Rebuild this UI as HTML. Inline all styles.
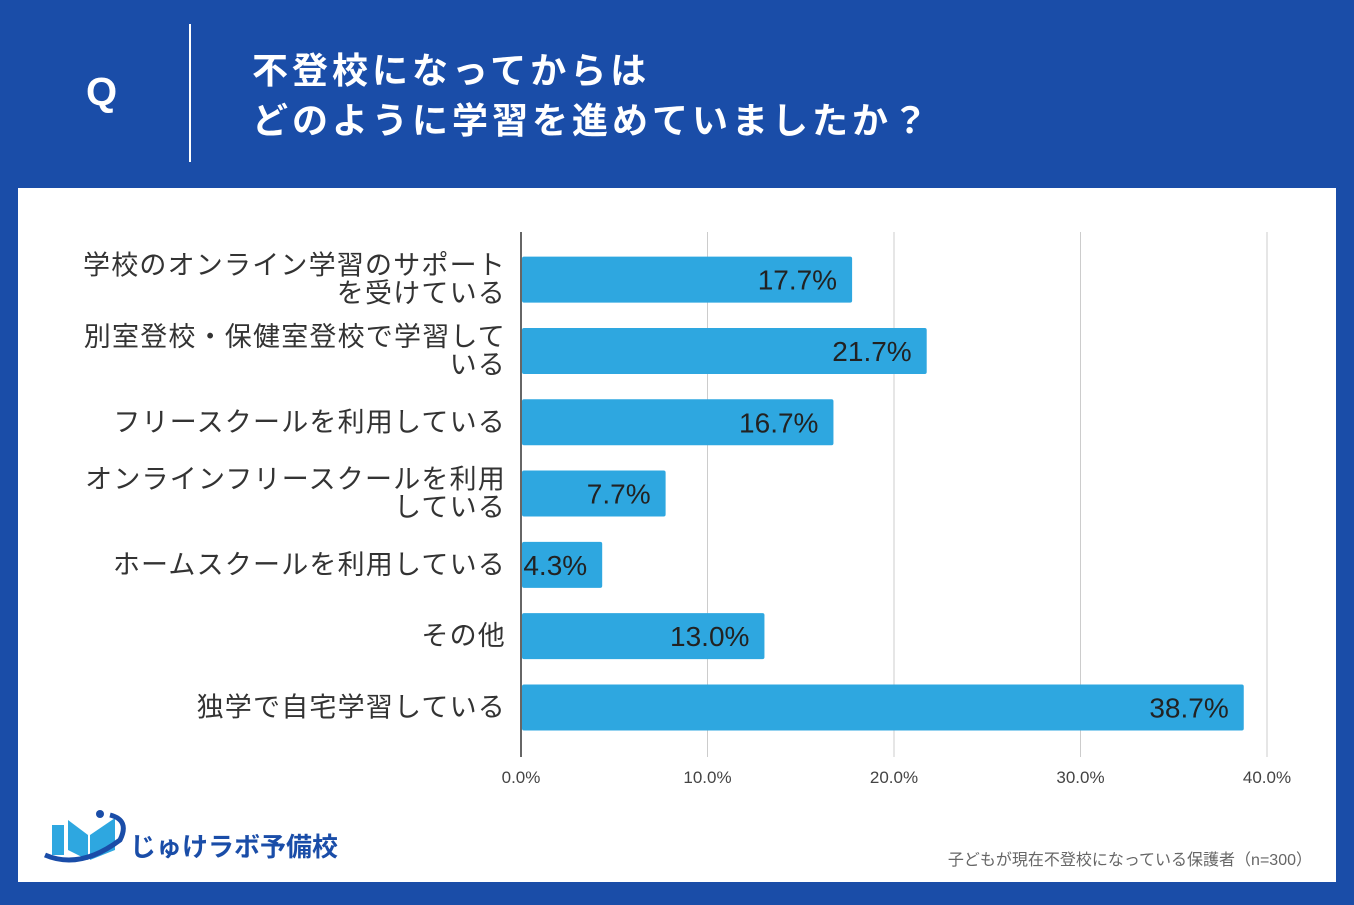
<!DOCTYPE html>
<html><head><meta charset="utf-8"><style>
body{margin:0;width:1354px;height:905px;background:#1a4da8;font-family:"Liberation Sans","Noto Sans CJK JP",sans-serif;overflow:hidden;position:relative}
#panel{position:absolute;left:18px;top:188px;width:1318px;height:694px;background:#fff}
.t{position:absolute;color:#fff;font-weight:bold}
</style></head><body>
<div class="t" style="left:86px;top:70px;font-size:40px">Q</div>
<div style="position:absolute;left:189px;top:24px;width:2px;height:138px;background:#fff"></div>
<div class="t" style="left:252px;top:46px;font-size:36px;letter-spacing:4px;line-height:50px">不登校になってからは<br>どのように学習を進めていましたか？</div>
<div id="panel"></div>
<svg id="chart" width="1354" height="905" style="position:absolute;left:0;top:0"></svg>
<div style="position:absolute;left:40px;top:810px;height:60px;width:320px">
<svg width="90" height="60" style="position:absolute;left:0;top:0"><rect x="12" y="15" width="12" height="30" fill="#2ea7e0"/><polygon points="28,10 48,25 48,50 28,40" fill="#2ea7e0"/><polygon points="50,25 75,8 75,40 50,50" fill="#2ea7e0"/><path d="M5 45 Q40 60 80 30 Q90 10 70 5" stroke="#1a4da8" stroke-width="5" fill="none"/><circle cx="60" cy="4" r="4" fill="#1a4da8"/></svg>
<div style="position:absolute;left:90px;top:17px;font-size:26px;font-weight:bold;color:#1a4da8">じゅけラボ予備校</div></div>
<div style="position:absolute;right:42px;top:846px;font-size:16px;color:#666">子どもが現在不登校になっている保護者（n=300）</div>
<script>
const categories=[["学校のオンライン学習のサポート","を受けている"],["別室登校・保健室登校で学習して","いる"],["フリースクールを利用している"],["オンラインフリースクールを利用","している"],["ホームスクールを利用している"],["その他"],["独学で自宅学習している"]];
const values=[17.7,21.7,16.7,7.7,4.3,13.0,38.7];
const ticks=[0,10,20,30,40];
const NS="http://www.w3.org/2000/svg",svg=document.getElementById('chart');
const x0=521,x1=1267,xmax=40,yTop=244,step=71.3,bh=46;
const X=v=>x0+(x1-x0)*v/xmax, Y=i=>yTop+step*i+step/2;
function mk(t,a,txt){const e=document.createElementNS(NS,t);for(const k in a)e.setAttribute(k,a[k]);if(txt!=null)e.textContent=txt;svg.appendChild(e);return e;}
ticks.forEach(t=>{
 const g=mk('line',{x1:X(t),x2:X(t),y1:232,y2:757,stroke:t==0?'#333':'#ccc','stroke-width':t==0?1.5:1});
 
 
 const l=mk('text',{x:X(t),y:783,'text-anchor':'middle','font-size':17,fill:'#444'},t.toFixed(1)+'%');
 
 
});
values.forEach((v,i)=>{
 const r=mk('rect',{x:X(0)+1,y:Y(i)-bh/2,width:X(v)-X(0),height:bh,fill:'#2ea7e0',rx:2});
 
 
 const t=mk('text',{x:X(v)-14,y:Y(i)+10,'text-anchor':'end','font-size':28,fill:'#222'},v.toFixed(1)+'%');
 
 
 const c=categories[i],n=c.length;
 c.forEach((s,j)=>{
  const l=mk('text',{x:506,y:Y(i)+9+(j-(n-1)/2)*28,'text-anchor':'end','font-size':27,'letter-spacing':1.2,fill:'#333'},s);
  
  
 });
});
</script>
</body></html>
